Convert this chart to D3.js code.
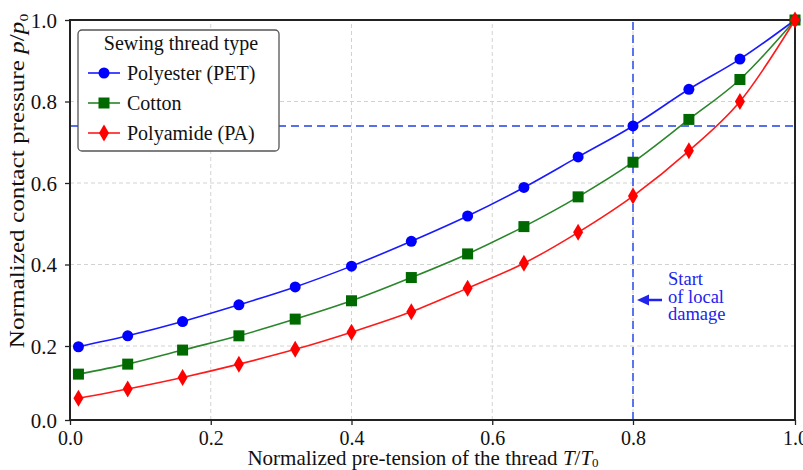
<!DOCTYPE html>
<html><head><meta charset="utf-8">
<script src="https://cdn.jsdelivr.net/npm/d3@7"></script>
<style>body{margin:0;background:#fff}svg{display:block;font-family:"Liberation Serif","Times New Roman",serif}</style>
</head><body><svg id="c" width="803" height="470"></svg>
<script>
const xValues = [0.012, 0.082, 0.16, 0.24, 0.32, 0.40, 0.485, 0.565, 0.645, 0.722, 0.80, 0.869, 0.932, 1.0];
const polyester = [0.198, 0.225, 0.26, 0.301, 0.345, 0.396, 0.457, 0.519, 0.589, 0.664, 0.740, 0.83, 0.904, 1.0];
const cotton = [0.124, 0.151, 0.189, 0.225, 0.266, 0.311, 0.368, 0.426, 0.493, 0.566, 0.651, 0.756, 0.854, 1.0];
const polyamide = [0.059, 0.084, 0.115, 0.151, 0.191, 0.234, 0.284, 0.342, 0.403, 0.479, 0.568, 0.679, 0.80, 1.0];
const seriesNames = ["Polyester (PET)", "Cotton", "Polyamide (PA)"];
const xTicks = [0.0, 0.2, 0.4, 0.6, 0.8, 1.0];
const yTicks = [0.0, 0.2, 0.4, 0.6, 0.8, 1.0];
const damageX = 0.8, damageY = 0.74;

const FONT = "Liberation Serif";
const svg = d3.select("#c");
const x = d3.scaleLinear().domain([0, 0.8, 1.0]).range([70, 633, 795]);
const y = d3.scaleLinear().domain([0, 0.2, 1.0]).range([420, 346, 20]);

// grid
const g = svg.append("g");
g.selectAll(".gx").data(xTicks.slice(1, -1)).enter().append("line")
  .attr("x1", d => x(d)).attr("x2", d => x(d)).attr("y1", y(0)).attr("y2", y(1))
  .attr("stroke", "#d2d2d2").attr("stroke-dasharray", "4,3").attr("stroke-width", 1);
g.selectAll(".gy").data(yTicks.slice(1, -1)).enter().append("line")
  .attr("y1", d => y(d)).attr("y2", d => y(d)).attr("x1", x(0)).attr("x2", x(1))
  .attr("stroke", "#d2d2d2").attr("stroke-dasharray", "4,3").attr("stroke-width", 1);

// damage lines
svg.append("line").attr("x1", x(0)).attr("x2", x(1)).attr("y1", y(damageY)).attr("y2", y(damageY))
  .attr("stroke", "#2240e8").attr("stroke-width", 1.5).attr("stroke-dasharray", "8,5");
svg.append("line").attr("x1", x(damageX)).attr("x2", x(damageX)).attr("y1", y(0)).attr("y2", y(1))
  .attr("stroke", "#4a68ee").attr("stroke-width", 1.8).attr("stroke-dasharray", "8,5");

// axes
const xAxis = d3.axisBottom(x).tickValues(xTicks).tickFormat(d3.format(".1f")).tickSizeOuter(0).tickSize(5);
const yAxis = d3.axisLeft(y).tickValues(yTicks).tickFormat(d3.format(".1f")).tickSizeOuter(0).tickSize(5).tickPadding(8);
const gx = svg.append("g").attr("transform", `translate(0,${y(0)})`).call(xAxis);
const gy = svg.append("g").attr("transform", `translate(${x(0)},0)`).call(yAxis);
[gx, gy].forEach(a => {
  a.attr("font-family", FONT);
  a.select(".domain").remove();
  a.selectAll("text").attr("font-size", 21).attr("font-family", FONT).attr("fill", "#111");
  a.selectAll("line").attr("stroke", "#222").attr("stroke-width", 1.3);
});
gx.selectAll("text").attr("font-size", 20).attr("y", 25).attr("dy", 0);
gy.selectAll("text").attr("dy", "0.34em");

// frame
svg.append("rect").attr("x", x(0)).attr("y", y(1)).attr("width", x(1) - x(0)).attr("height", y(0) - y(1))
  .attr("fill", "none").attr("stroke", "#222").attr("stroke-width", 2);

const series = [
  {name: seriesNames[0], vals: polyester, line: "#1a1aff", fill: "#0000ff", shape: "circle"},
  {name: seriesNames[1], vals: cotton, line: "#2a862a", fill: "#006a00", shape: "square"},
  {name: seriesNames[2], vals: polyamide, line: "#ff1a1a", fill: "#ff0000", shape: "diamond"}
];
const line = d3.line().x(d => x(d[0])).y(d => y(d[1])).curve(d3.curveMonotoneX);

function marker(sel, shape, color) {
  if (shape === "circle") sel.append("circle").attr("r", 5.5).attr("fill", color);
  else if (shape === "square") sel.append("rect").attr("x", -5.5).attr("y", -5.5).attr("width", 11).attr("height", 11).attr("fill", color);
  else sel.append("path").attr("d", "M0,-8.5L5,0L0,8.5L-5,0Z").attr("fill", color);
}

series.forEach(s => {
  const pts = xValues.map((xv, i) => [xv, s.vals[i]]);
  svg.append("path").attr("d", line(pts)).attr("fill", "none").attr("stroke", s.line).attr("stroke-width", 1.6);
  pts.forEach(p => {
    const m = svg.append("g").attr("transform", `translate(${x(p[0])},${y(p[1])})`);
    marker(m, s.shape, s.fill);
  });
});

// legend
const lg = svg.append("g").attr("font-family", FONT);
lg.append("rect").attr("x", 78).attr("y", 30).attr("width", 201).attr("height", 121).attr("rx", 4)
  .attr("fill", "#fff").attr("stroke", "#555").attr("stroke-width", 1.3);
lg.append("text").attr("x", 181).attr("y", 50).attr("text-anchor", "middle").attr("font-size", 20).attr("fill", "#111").text("Sewing thread type");
series.forEach((s, i) => {
  const yy = 73 + i * 30;
  lg.append("line").attr("x1", 88).attr("x2", 120).attr("y1", yy).attr("y2", yy).attr("stroke", s.line).attr("stroke-width", 1.6);
  marker(lg.append("g").attr("transform", `translate(104,${yy})`), s.shape, s.fill);
  lg.append("text").attr("x", 127).attr("y", yy + 7).attr("font-size", 20).attr("fill", "#111").text(s.name);
});

// annotation
const ann = svg.append("g").attr("fill", "#2222ee").attr("font-family", FONT);
ann.append("line").attr("x1", 662).attr("x2", 648).attr("y1", 300).attr("y2", 300).attr("stroke", "#2222ee").attr("stroke-width", 2.5);
ann.append("path").attr("d", "M637,300L649,294.5L649,305.5Z");
["Start", "of local", "damage"].forEach((t, i) => {
  ann.append("text").attr("x", 668).attr("y", 285 + i * 17.5).attr("font-size", 18.5).text(t);
});

// axis titles
const xt = svg.append("text").attr("x", 423).attr("y", 465).attr("text-anchor", "middle").attr("font-size", 21).attr("fill", "#111").attr("font-family", FONT);
xt.append("tspan").text("Normalized pre-tension of the thread ");
xt.append("tspan").attr("font-style", "italic").text("T");
xt.append("tspan").text("/");
xt.append("tspan").attr("font-style", "italic").text("T");
xt.append("tspan").attr("font-size", 13).attr("dy", 2).text("0");

const yt = svg.append("text").attr("transform", "translate(24,181) rotate(-90) scale(1.2,1)").attr("text-anchor", "middle").attr("font-size", 21).attr("fill", "#111").attr("font-family", FONT);
yt.append("tspan").text("Normalized contact pressure ");
yt.append("tspan").attr("font-style", "italic").text("p");
yt.append("tspan").text("/");
yt.append("tspan").attr("font-style", "italic").text("p");
yt.append("tspan").attr("font-size", 13).attr("dy", 4).text("0");
</script></body></html>
